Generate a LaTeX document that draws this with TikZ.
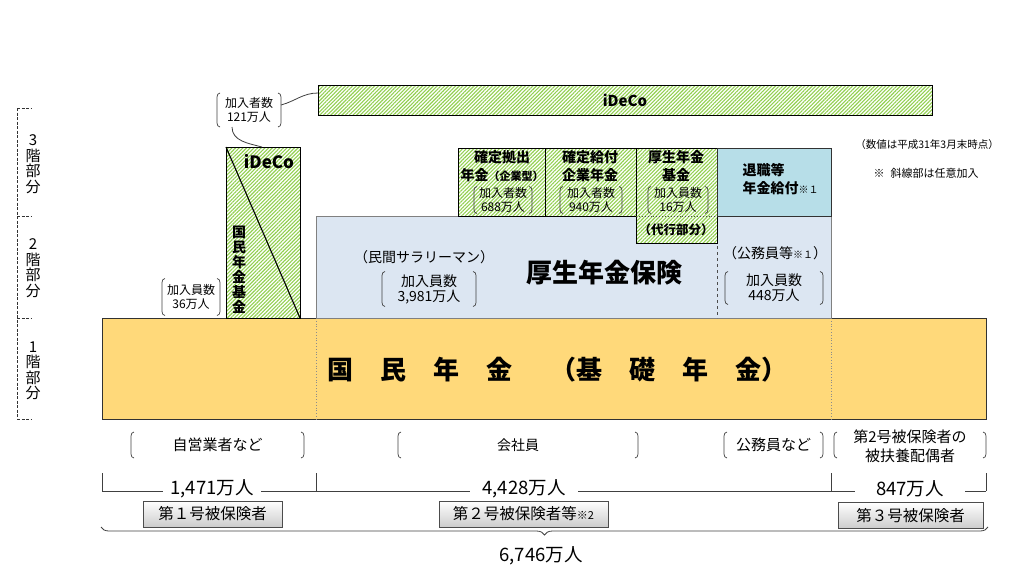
\documentclass[tikz,border=0pt]{standalone}
\usepackage{fontspec}
\setmainfont{Noto Sans CJK JP}
\usetikzlibrary{patterns.meta,decorations.pathreplacing}
\definecolor{yel}{RGB}{255,217,122}
\definecolor{lblue}{RGB}{220,230,242}
\definecolor{tblue}{RGB}{183,222,232}
\definecolor{hgreen}{RGB}{146,208,80}
\definecolor{edgec}{RGB}{50,50,50}
\tikzset{
  bkline/.style={draw=black!75, line width=0.7pt},
  boxbase/.style={inner sep=0pt, outer sep=0pt, anchor=north west},
  greenbox/.style={boxbase, draw=black, line width=0.9pt, preaction={fill=white},
     pattern={Lines[angle=45,distance=2.6pt,line width=1.1pt]}, pattern color=hgreen},
  yelbox/.style={boxbase, draw=edgec, line width=0.9pt, fill=yel},
  bluebox/.style={boxbase, draw=black!50, line width=0.9pt, fill=lblue},
  tbox/.style={boxbase, draw=edgec, line width=0.9pt, fill=tblue},
  bkt/.style={inner sep=0pt, outer sep=0pt, align=center},
  button/.style={draw=black!70, line width=0.9pt, top color=white, bottom color=black!20,
     inner sep=0pt, font=\fontsize{15.5}{17}\selectfont},
  conn/.style={draw=black!75, line width=0.8pt},
  dimline/.style={draw=black!75, line width=0.8pt},
  dimlab/.style={fill=white, inner ysep=1pt, font=\fontsize{18.5}{20}\selectfont},
  vlabel/.style={align=center, inner sep=0pt, font=\fontsize{15}{15.5}\selectfont},
  fa/.style={font=\fontsize{12}{14.5}\selectfont},
  fb/.style={font=\fontsize{14}{15}\selectfont},
  fc/.style={font=\fontsize{15}{19}\selectfont},
  hb/.style={font=\fontsize{14}{18}\selectfont\bfseries},
}
\newcommand\bracketsof[1]{%
  \draw[bkline] ([xshift=3pt]#1.north west) to[out=180,in=90] ([yshift=-4pt]#1.north west) -- ([yshift=4pt]#1.south west) to[out=-90,in=180] ([xshift=3pt]#1.south west);%
  \draw[bkline] ([xshift=-3pt]#1.north east) to[out=0,in=90] ([yshift=-4pt]#1.north east) -- ([yshift=4pt]#1.south east) to[out=-90,in=0] ([xshift=-3pt]#1.south east);}
\begin{document}
\begin{tikzpicture}[x=1pt,y=1pt]
\useasboundingbox (0,0) rectangle (1009,-571);
% ---- left scale
\coordinate (s0) at (17,-108);
\coordinate (s1) at (17,-216);
\coordinate (s2) at (17,-318);
\coordinate (s3) at (17,-419);
\draw[black!80, line width=0.8pt, dash pattern=on 3pt off 1.5pt] (s0) -- (s3)
  (s0) -- ++(15,0) (s1) -- ++(15,0) (s2) -- ++(15,0) (s3) -- ++(15,0);
\node[vlabel] (f3) at (33,-164) {3\\階\\部\\分};
\node[vlabel] (f2) at (33,-268) {2\\階\\部\\分};
\node[vlabel] (f1) at (33,-371) {1\\階\\部\\分};
% ---- base
\node[yelbox, minimum width=884pt, minimum height=101pt] (kokumin) at (102,-318) {};
\draw[black!45, dotted, line width=0.8pt] (316,-318) -- (316,-419) (831,-318) -- (831,-419);
\node[anchor=west, inner sep=0pt, font=\fontsize{26}{28}\selectfont\bfseries] (kt) at (327,-370)
  {国\hspace{27pt}民\hspace{27pt}年\hspace{27pt}金\hspace{38pt}（基\hspace{27pt}礎\hspace{27pt}年\hspace{27pt}金）};
% ---- 2nd floor
\node[bluebox, minimum width=515pt, minimum height=102pt] (kosei) at (316,-216) {};
\coordinate (dv1) at (717,-216);
\coordinate (dv2) at (717,-318);
\draw[black!70, dashed, line width=0.8pt] (dv1) -- (dv2);
\node[fb] (minkan) at (424,-257) {（民間サラリーマン）};
\node[bkt, fb, minimum width=94pt, minimum height=35pt] (n3981) at (429,-289) {加入員数\\3,981万人};
\bracketsof{n3981}
\node[font=\fontsize{26}{28}\selectfont\bfseries] (kht) at (604,-273) {厚生年金保険};
\node[fb] (komu) at (775,-253) {（公務員等{\fontsize{10}{12}\selectfont ※１}）};
\node[bkt, fb, minimum width=98pt, minimum height=33pt] (n448) at (774,-288) {加入員数\\448万人};
\bracketsof{n448}
% ---- 3rd floor boxes
\node[greenbox, minimum width=87pt, minimum height=68pt] (dc) at (458,-148) {};
\node[greenbox, minimum width=91pt, minimum height=68pt] (db) at (545,-148) {};
\node[greenbox, minimum width=81pt, minimum height=95pt] (kk) at (636,-148) {};
\node[tbox, minimum width=114pt, minimum height=68pt] (tai) at (717,-148) {};
\draw[black!70, dotted, line width=0.9pt] (kk.west |- dv1) -- (kk.east |- dv1);
\node[hb, align=center] (dct) at (502,-166) {確定拠出\\年金{\fontsize{11}{12}\selectfont （企業型）}};
\node[bkt, fa, minimum width=58pt, minimum height=27pt] (n688) at (503,-200) {加入者数\\688万人};
\bracketsof{n688}
\node[hb, align=center] (dbt) at (590,-166) {確定給付\\企業年金};
\node[bkt, fa, minimum width=62pt, minimum height=27pt] (n940) at (591,-200) {加入者数\\940万人};
\bracketsof{n940}
\node[hb, align=center] (kkt) at (676,-166) {厚生年金\\基金};
\node[bkt, fa, minimum width=60pt, minimum height=27pt] (n16) at (678,-200) {加入員数\\16万人};
\bracketsof{n16}
\node[font=\fontsize{12.5}{14}\selectfont\bfseries] (daiko) at (676,-230) {（代行部分）};
\node[hb, align=left, anchor=west] (tait) at (739,-179) {退職等\\年金給付{\mdseries\fontsize{10}{12}\selectfont ※１}};
% ---- iDeCo
\node[greenbox, minimum width=614pt, minimum height=30pt] (idecoTop) at (318,-85) {};
\node[font=\fontsize{15}{17}\selectfont\bfseries] (idecoTopT) at (625,-100) {iDeCo};
\node[greenbox, minimum width=74pt, minimum height=171pt] (idecoS) at (226,-147) {};
\draw[black, line width=1.1pt] (idecoS.north west) -- (idecoS.south east);
\node[font=\fontsize{17}{19}\selectfont\bfseries] (idecoST) at (269,-162) {iDeCo};
\node[align=center, inner sep=0pt, font=\fontsize{14}{15}\selectfont\bfseries] (kkkt) at (239,-270) {国\\民\\年\\金\\基\\金};
\node[bkt, fa, minimum width=64pt, minimum height=34pt] (n121) at (249,-110) {加入者数\\121万人};
\bracketsof{n121}
\node[bkt, fa, minimum width=58pt, minimum height=37pt] (n36) at (191,-297) {加入員数\\36万人};
\bracketsof{n36}
\draw[conn] ([yshift=5pt]n121.east) to[out=15,in=180] ([yshift=7pt]idecoTop.west);
\draw[conn] ([xshift=-17pt]n121.south) to[out=-90,in=165] ([xshift=36pt]idecoS.north west);
% ---- notes
\node[font=\fontsize{10.5}{12}\selectfont] (note1) at (927,-145) {（数値は平成31年3月末時点）};
\node[font=\fontsize{11}{12}\selectfont] (note2) at (926,-173) {※\hspace{6pt}斜線部は任意加入};
% ---- bottom categories
\node[bkt, fc, minimum width=173pt, minimum height=26pt] (jiei) at (217.5,-445) {自営業者など};
\bracketsof{jiei}
\node[bkt, fb, minimum width=240pt, minimum height=26pt] (kaisha) at (518,-445) {会社員};
\bracketsof{kaisha}
\node[bkt, fc, minimum width=99pt, minimum height=26pt] (koumu) at (773.5,-445) {公務員など};
\bracketsof{koumu}
\node[bkt, minimum width=152pt, minimum height=26pt] (dai3b) at (910,-445) {};
\bracketsof{dai3b}
\node[align=center, inner sep=0pt, fc] (dai3t) at (910,-446) {第2号被保険者の\\被扶養配偶者};
% ---- dimension line
\coordinate (d0) at (102,-491);
\coordinate (d1) at (316,-491);
\coordinate (d2) at (831,-491);
\coordinate (d3) at (986,-491);
\draw[dimline] (d0) -- (d3)
  (d0) -- ++(0,18) (d1) -- ++(0,18) (d2) -- ++(0,18) (d3) -- ++(0,18);
\node[dimlab, inner xsep=7pt] (c1471) at (212,-489) {1,471万人};
\node[dimlab, inner xsep=12pt] (c4428) at (524,-489) {4,428万人};
\node[dimlab, inner xsep=21pt] (c847) at (910,-489) {847万人};
% ---- buttons
\node[button, minimum width=139pt, minimum height=26pt] (b1) at (212.5,-514) {第１号被保険者};
\node[button, minimum width=169pt, minimum height=26pt] (b2) at (523.5,-514) {第２号被保険者等{\fontsize{11}{12}\selectfont ※2}};
\node[button, minimum width=145pt, minimum height=26pt] (b3) at (910.5,-515.5) {第３号被保険者};
% ---- total brace
\coordinate (br0) at (101,-527);
\coordinate (br1) at (988,-527);
\draw[dimline, decorate, decoration={brace, mirror, amplitude=8pt}] (br0) -- (br1);
\node[font=\fontsize{18.5}{20}\selectfont] (total) at (541,-556) {6,746万人};
\end{tikzpicture}
\end{document}
